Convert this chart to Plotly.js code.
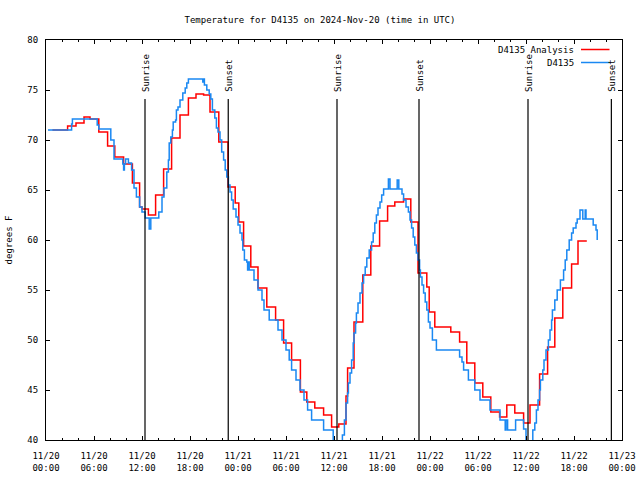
<!DOCTYPE html>
<html>
<head>
<meta charset="utf-8">
<script src="https://cdn.plot.ly/plotly-3.0.1.min.js"></script>
<style>html,body{margin:0;padding:0;background:#fff}#chart{width:640px;height:480px}</style>
</head>
<body>
<div id="chart"></div>
<script>
// ---- data (hours after 2024-11-20 00:00 UTC) ----
var startDate = Date.UTC(2024, 10, 20, 0, 0, 0);

var analysisHours = [0.8, 2.7, 3.75, 4.75, 5.5, 6.6, 7.7, 8.6, 9.7, 10.8, 11.7, 12.0, 12.8, 13.7, 14.7, 15.7, 16.75, 17.8, 18.75, 19.7, 20.5, 21.6, 22.75, 23.65, 24.1, 24.7, 25.6, 26.5, 27.6, 28.7, 29.7, 30.7, 31.8, 32.6, 33.6, 34.7, 35.7, 36.6, 37.5, 37.7, 38.5, 39.6, 40.6, 41.7, 42.7, 43.6, 44.7, 45.6, 46.5, 47.6, 47.9, 48.6, 50.6, 51.7, 52.6, 53.6, 54.6, 55.6, 56.7, 57.6, 58.6, 59.7, 60.5, 61.7, 62.7, 63.6, 64.6, 65.7, 66.5, 67.6];
var analysisTemps = [71.0, 71.4, 71.7, 72.3, 72.1, 70.8, 69.4, 68.3, 67.6, 65.7, 63.3, 63.1, 62.5, 64.5, 67.1, 70.2, 72.5, 74.2, 74.6, 74.5, 72.8, 69.8, 65.3, 63.7, 61.8, 59.4, 57.3, 55.2, 53.3, 52.0, 49.7, 48.0, 44.8, 43.8, 43.2, 42.5, 41.3, 41.6, 44.4, 47.2, 51.8, 56.5, 59.4, 61.9, 63.4, 63.8, 64.1, 61.8, 56.7, 55.3, 52.8, 51.3, 50.8, 49.8, 47.7, 45.7, 44.3, 42.8, 42.3, 43.5, 42.7, 41.7, 43.5, 46.6, 49.3, 52.2, 55.2, 57.6, 59.9, 59.9];

var stationHours = [0.25, 3.2, 3.3, 6.4, 6.6, 8.1, 8.5, 9.6, 9.7, 9.8, 9.95, 10.3, 10.7, 11.0, 11.3, 11.7, 12.0, 12.4, 12.9, 13.1, 14.1, 14.5, 14.75, 15.1, 15.3, 15.4, 15.6, 15.8, 15.9, 16.2, 16.3, 16.5, 16.75, 17.1, 17.4, 17.6, 17.8, 19.6, 19.7, 19.8, 20.1, 20.4, 20.6, 20.8, 21.1, 21.3, 21.5, 21.75, 21.96, 22.2, 22.4, 22.6, 22.8, 23.0, 23.2, 23.4, 23.75, 24.0, 24.25, 24.5, 24.6, 24.8, 25.1, 25.2, 25.3, 25.4, 26.0, 26.5, 27.0, 27.25, 27.9, 29.0, 29.5, 30.0, 30.4, 30.7, 31.25, 31.75, 32.25, 32.7, 33.2, 34.7, 35.9, 37.05, 37.3, 37.5, 37.7, 37.8, 38.0, 38.2, 38.4, 38.5, 38.7, 38.8, 39.0, 39.25, 39.5, 39.7, 39.9, 40.1, 40.4, 40.7, 40.9, 41.1, 41.3, 41.5, 41.75, 41.96, 42.2, 42.8, 43.0, 43.9, 44.1, 44.5, 44.7, 45.0, 45.3, 45.5, 45.7, 45.9, 46.1, 46.3, 46.5, 46.7, 46.8, 47.0, 47.2, 47.4, 47.6, 47.8, 48.0, 48.3, 48.8, 51.7, 52.0, 52.2, 52.8, 53.6, 54.25, 55.5, 56.75, 57.4, 57.5, 57.7, 58.7, 59.7, 60.0, 60.85, 61.1, 61.3, 61.5, 61.7, 61.8, 62.1, 62.25, 62.5, 62.8, 63.0, 63.2, 63.3, 63.6, 63.9, 64.3, 64.7, 64.9, 65.1, 65.4, 65.7, 65.9, 66.25, 66.4, 66.75, 67.1, 67.4, 67.5, 68.4, 68.75, 68.9];
var stationTemps = [71.0, 71.6, 72.1, 71.5, 71.1, 70.0, 68.1, 67.6, 67.0, 67.6, 68.1, 67.7, 67.0, 65.2, 64.3, 63.3, 62.8, 62.2, 61.1, 62.2, 62.8, 64.3, 65.2, 66.8, 68.0, 69.7, 70.3, 71.0, 71.8, 72.0, 73.0, 73.3, 74.0, 74.7, 75.2, 75.7, 76.1, 75.8, 76.1, 75.5, 75.0, 74.6, 74.1, 73.0, 72.2, 71.2, 70.8, 70.0, 68.8, 68.0, 67.0, 66.3, 65.5, 64.8, 64.0, 63.1, 62.3, 61.5, 60.7, 60.0, 59.0, 58.0, 57.8, 57.0, 57.8, 57.0, 56.0, 55.0, 54.0, 53.0, 52.0, 51.0, 50.0, 49.0, 48.0, 47.0, 46.0, 45.0, 44.0, 43.0, 42.0, 41.0, 39.0, 40.5, 42.0, 43.7, 44.7, 45.7, 46.7, 48.0, 49.7, 50.7, 51.7, 52.7, 53.7, 54.7, 55.7, 56.5, 57.3, 58.2, 59.0, 59.8, 60.7, 61.7, 62.5, 63.2, 63.8, 64.5, 65.1, 66.1, 65.1, 66.0, 65.1, 64.6, 64.0, 63.3, 62.8, 62.0, 61.2, 60.3, 59.5, 58.7, 58.0, 57.0, 56.3, 55.5, 54.7, 53.8, 53.0, 51.8, 51.2, 50.0, 49.0, 48.3, 47.8, 47.0, 46.0, 45.0, 44.0, 43.0, 42.0, 41.0, 42.0, 41.0, 42.0, 41.1, 39.0, 41.0, 41.7, 43.0, 44.0, 45.0, 46.0, 47.0, 48.0, 49.0, 50.0, 51.0, 52.0, 53.0, 54.0, 55.0, 56.0, 57.0, 58.0, 59.0, 60.0, 60.7, 61.2, 61.7, 62.1, 63.0, 62.1, 63.0, 62.1, 61.5, 61.0, 60.0];

var sunHours = [12.375, 22.78, 36.375, 46.625, 60.25, 70.67];
var sunLabels = ["Sunrise", "Sunset", "Sunrise", "Sunset", "Sunrise", "Sunset"];

var seriesNames = ["D4135 Analysis", "D4135"];
var seriesColors = ["#ff0000", "#1a88f2"];

var titleText = "Temperature for D4135 on 2024-Nov-20 (time in UTC)";
var yTitle = "degrees F";
var xRange = [0, 72];
var yRange = [40, 80];

// ---- helpers ----
function pad(n) { return (n < 10 ? "0" : "") + n; }
function toDate(h) {
  var d = new Date(startDate + Math.round(h * 3600000));
  return d.getUTCFullYear() + "-" + pad(d.getUTCMonth() + 1) + "-" + pad(d.getUTCDate()) + " " +
    pad(d.getUTCHours()) + ":" + pad(d.getUTCMinutes()) + ":" + pad(d.getUTCSeconds());
}

var font = "DejaVu Sans Mono, monospace";
var plotL = 46, plotR = 622, plotT = 40, plotB = 440;

var traces = [
  {
    x: analysisHours.map(toDate), y: analysisTemps, type: "scatter", mode: "lines",
    line: { shape: "hv", color: seriesColors[0], width: 1.5 }, name: seriesNames[0], showlegend: false
  },
  {
    x: stationHours.map(toDate), y: stationTemps, type: "scatter", mode: "lines",
    line: { shape: "hv", color: seriesColors[1], width: 1.5 }, name: seriesNames[1], showlegend: false
  }
];

var shapes = [];
var annotations = [];
sunHours.forEach(function (h, i) {
  shapes.push({
    type: "line", xref: "x", yref: "paper", x0: toDate(h), x1: toDate(h),
    y0: 0, y1: (plotB - 99) / (plotB - plotT), line: { color: "#000", width: 1.2 }
  });
  annotations.push({
    xref: "x", yref: "paper", x: toDate(h), y: (plotB - 93) / (plotB - plotT),
    text: sunLabels[i], textangle: -90, showarrow: false, xanchor: "center", yanchor: "bottom",
    xshift: 1, font: { family: font, size: 9, color: "#000" }, borderpad: 0
  });
});

// gnuplot-style legend: text right, sample line to its right
var legendY = [49.5, 62.5];
seriesNames.forEach(function (name, i) {
  var py = (plotB - legendY[i]) / (plotB - plotT);
  annotations.push({
    xref: "paper", yref: "paper", x: (575 - plotL) / (plotR - plotL), y: py,
    text: name, showarrow: false, xanchor: "right", yanchor: "middle", borderpad: 0,
    font: { family: font, size: 9, color: "#000" }
  });
  shapes.push({
    type: "line", xref: "paper", yref: "paper",
    x0: (581 - plotL) / (plotR - plotL), x1: (609.5 - plotL) / (plotR - plotL), y0: py, y1: py,
    line: { color: seriesColors[i], width: 1.5 }
  });
});

var layout = {
  width: 640, height: 480,
  margin: { l: plotL, r: 640 - plotR, t: plotT, b: 480 - plotB, pad: 0 },
  paper_bgcolor: "#fff", plot_bgcolor: "#fff",
  font: { family: font, size: 9, color: "#000" },
  title: {
    text: titleText, x: 0.5, xref: "container", y: 1 - 19.5 / 480, yref: "container",
    xanchor: "center", yanchor: "middle", font: { family: font, size: 9, color: "#000" }
  },
  showlegend: false,
  xaxis: {
    type: "date", range: [toDate(xRange[0]), toDate(xRange[1])],
    tick0: toDate(0), dtick: 6 * 3600000, tickformat: "%m/%d<br>%H:%M",
    ticks: "inside", ticklen: 4, tickwidth: 1, tickcolor: "#000",
    showline: true, linecolor: "#000", linewidth: 1, mirror: "ticks",
    showgrid: false, zeroline: false, ticklabelstandoff: 7,
    minor: { ticks: "inside", dtick: 2 * 3600000, tick0: toDate(0), ticklen: 2, tickcolor: "#000", showgrid: false },
    tickfont: { family: font, size: 9, color: "#000" }, automargin: false
  },
  yaxis: {
    range: yRange, dtick: 5, tick0: 40,
    ticks: "inside", ticklen: 4, tickwidth: 1, tickcolor: "#000",
    showline: true, linecolor: "#000", linewidth: 1, mirror: "ticks",
    showgrid: false, zeroline: false, ticklabelstandoff: 5,
    title: { text: yTitle, font: { family: font, size: 9, color: "#000" }, standoff: 13 },
    tickfont: { family: font, size: 9, color: "#000" }, automargin: false
  },
  shapes: shapes,
  annotations: annotations
};

Plotly.newPlot("chart", traces, layout, { staticPlot: true, displayModeBar: false });
</script>
</body>
</html>
